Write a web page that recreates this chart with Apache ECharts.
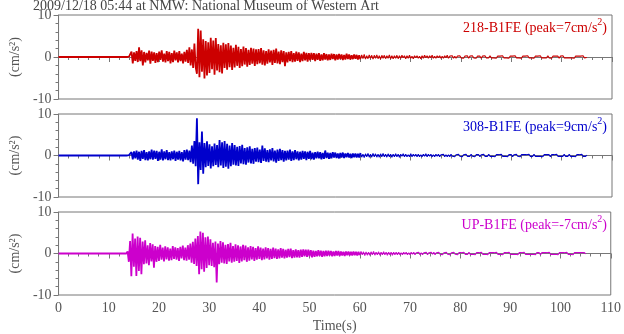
<!DOCTYPE html>
<html>
<head>
<meta charset="utf-8">
<script src="https://cdn.jsdelivr.net/npm/echarts@6/dist/echarts.min.js"></script>
<style>
  html, body { margin: 0; padding: 0; background: #fff; }
  #chart { width: 624px; height: 334px; }
</style>
</head>
<body>
<div id="chart"></div>
<script>
// Strong-motion record, 2009/12/18 05:44, National Museum of Western Art (NMW).
// Acceleration in cm/s^2, sampled every 0.25 s from 13.5 s; quiet before that.
const TITLE = '2009/12/18 05:44 at NMW: National Museum of Western Art';
const RECORD_START = 0;
const SAMPLE_START = 13.5;
const DT = 0.25;
const CODA_START = 60; // weak coda drawn with a thinner pen
const X_TICKS = [0, 10, 20, 30, 40, 50, 60, 70, 80, 90, 100, 110];
const Y_TICKS = [-10, 0, 10];

const channels = ['218-B1FE', '308-B1FE', 'UP-B1FE'];
const peaks = ['7', '9', '-7'];
const colors = ['#cc0000', '#0000cc', '#cc00cc'];

const acc218 = [
  0, 0, 0.1, -0.2, 1.3, -1.5, 1.1, -0.9,
  1.4, -1.2, 2.3, -1.0, 1.6, -2.0, 1.2, -1.3,
  1.0, -0.8, 1.5, -1.6, 1.3, -0.9, 1.1, -1.4,
  0.9, -1.2, 1.3, -0.7, 1.6, -1.1, 0.8, -1.3,
  1.4, -1.0, 1.2, -1.5, 0.9, -1.2, 1.5, -0.8,
  1.1, -1.3, 1.4, -1.0, 0.8, -1.5, 1.2, -1.1,
  1.7, -1.4, 2.3, -2.0, 1.8, -2.6, 3.2, -2.4,
  -4.0, 6.7, -4.8, 6.3, -3.5, 4.2, -5.1, 3.8,
  -4.4, 3.5, -3.8, 4.6, -2.9, 3.9, -4.2, 4.5,
  -3.2, 3.1, -3.6, 2.8, -3.9, 3.4, -2.6, 3.0,
  -3.0, 3.3, -2.4, 2.7, -3.1, 2.2, -2.5, 2.9,
  -2.1, 2.4, -2.6, 1.9, -2.2, 2.5, -1.8, 2.1,
  -2.3, 1.7, -1.9, 2.2, -1.6, 2.0, -2.1, 1.8,
  -1.7, 1.9, -1.5, 2.1, -1.8, 1.6, -2.0, 1.4,
  -1.6, 1.8, -1.3, 1.5, -1.9, 1.7, -1.4, 2.0,
  -1.5, 1.3, -1.7, 1.6, -1.2, 1.4, -2.2, 1.1,
  -1.3, 1.2, -1.0, 1.4, -1.2, 0.9, -1.1, 1.3,
  -0.9, 1.1, -1.2, 0.8, -1.0, 1.2, -0.8, 1.0,
  -1.1, 0.9, -0.8, 1.0, -0.7, 0.9, -1.0, 0.8,
  -0.7, 0.9, -0.9, 0.6, -0.8, 0.9, -0.6, 0.7,
  -0.8, 0.6, -0.7, 0.8, -0.5, 0.7, -0.8, 0.6,
  -0.6, 0.7, -0.5, 0.6, -0.7, 0.5, -0.6, 0.8,
  -0.5, 0.6, -0.6, 0.4, -0.5, 0.6, -0.4, 0.5,
  -0.6, 0.4, -0.5, 0.5, -0.4, 0.6, -0.5, 0.3,
  -0.4, 0.5, -0.3, 0.4, -0.5, 0.4, -0.3, 0.5,
  -0.4, 0.3, -0.5, 0.4, -0.3, 0.4, -0.4, 0.3,
  -0.3, 0.5, -0.4, 0.3, -0.4, 0.3, -0.3, 0.4,
  -0.4, 0.3, -0.3, 0.4, -0.2, 0.3, -0.4, 0.3,
  -0.3, 0.4, -0.3, 0.2, -0.4, 0.3, -0.2, 0.3,
  -0.3, 0.2, -0.4, 0.3, -0.3, 0.4, -0.2, 0.3,
  -0.3, 0.3, -0.2, 0.4, -0.3, 0.2, -0.3, 0.3,
  -0.2, 0.3, -0.3, 0.2, -0.3, 0.3, -0.2, 0.4,
  -0.3, 0.2, -0.2, 0.3, -0.3, 0.2, -0.3, 0.2,
  -0.2, 0.3, -0.2, 0.2, -0.3, 0.2, -0.2, 0.3,
  -0.3, 0.2, -0.2, 0.3, -0.2, 0.2, -0.3, 0.2,
  -0.2, 0.2, -0.3, 0.2, -0.2, 0.3, -0.2, 0.2,
  -0.2, 0.3, -0.2, 0.2, -0.2, 0.2, -0.3, 0.2,
  -0.2, 0.2, -0.2, 0.3, -0.2, 0.2, -0.2, 0.2,
  -0.3, 0.2, -0.2, 0.2, -0.2, 0.3, -0.2, 0.2,
  -0.2, 0.2, -0.3, 0.2, -0.2, 0.2, -0.2, 0.3,
  -0.2, 0.2, -0.2, 0.2, -0.3, 0.2, -0.2, 0.2,
  -0.2, 0.3, -0.2, 0.2, -0.2, 0.2, -0.2, 0.3,
  -0.2, 0.2, -0.3, 0.2, -0.2, 0.2, -0.2, 0.2,
  -0.3, 0.2, -0.2, 0.3, -0.2, 0.2, -0.2, 0.2,
  -0.2, 0.2, -0.2, 0.2, -0.3, 0.2, -0.2, 0.2,
  -0.2, 0.2, -0.2, 0.3, -0.2, 0.2, -0.1
];

const acc308 = [
  0, 0, 0.1, -0.1, 0.8, -0.9, 1.0, -0.7,
  1.2, -1.0, 0.9, -1.3, 1.1, -0.8, 1.3, -1.1,
  0.8, -1.2, 1.0, -0.9, 1.4, -1.0, 1.2, -0.8,
  1.1, -1.3, 0.9, -1.0, 1.5, -1.2, 1.0, -0.9,
  1.3, -1.1, 0.8, -1.2, 1.0, -0.9, 1.2, -1.3,
  0.9, -1.0, 1.1, -1.2, 0.8, -1.4, 1.3, -1.0,
  1.4, -1.1, 1.2, -1.6, 2.4, -2.0, 3.5, -2.6,
  9.0, -6.9, 3.2, -3.5, 5.8, -4.4, 3.0, -2.8,
  3.4, -2.5, 2.7, -3.1, 2.2, -2.6, 2.9, -2.3,
  2.5, -2.8, 3.7, -2.4, 3.2, -3.0, 3.5, -2.7,
  2.8, -3.2, 2.4, -2.6, 3.0, -2.2, 2.5, -2.4,
  2.1, -2.5, 2.3, -1.9, 2.6, -2.1, 1.8, -2.2,
  2.0, -1.7, 2.2, -1.9, 1.6, -2.0, 1.8, -1.5,
  1.9, -1.6, 1.4, -1.8, 2.4, -1.3, 1.7, -1.5,
  1.3, -1.6, 1.5, -1.2, 1.8, -1.4, 1.2, -1.7,
  1.4, -1.3, 1.6, -1.1, 1.3, -1.5, 1.1, -1.2,
  1.2, -1.0, 1.4, -1.3, 1.0, -1.1, 1.3, -0.9,
  1.0, -1.2, 0.9, -1.0, 1.1, -0.8, 1.0, -1.1,
  0.9, -0.8, 1.1, -0.9, 0.7, -1.0, 0.8, -0.7,
  0.9, -0.7, 0.8, -0.9, 0.6, -0.8, 1.2, -0.6,
  0.7, -0.8, 0.6, -0.7, 0.8, -0.5, 0.7, -0.6,
  0.5, -0.7, 0.6, -0.5, 0.7, -0.6, 0.5, -0.4,
  0.6, -0.5, 0.4, -0.6, 0.5, -0.4, 0.5, -0.5,
  0.4, -0.5, 0.6, -0.4, 0.3, -0.5, 0.4, -0.3,
  0.5, -0.4, 0.3, -0.4, 0.5, -0.3, 0.4, -0.4,
  0.3, -0.4, 0.4, -0.3, 0.5, -0.3, 0.3, -0.4,
  0.4, -0.3, 0.3, -0.4, 0.3, -0.3, 0.4, -0.3,
  0.3, -0.4, 0.3, -0.2, 0.4, -0.3, 0.3, -0.3,
  0.2, -0.3, 0.4, -0.3, 0.3, -0.2, 0.3, -0.3,
  0.3, -0.3, 0.2, -0.3, 0.3, -0.2, 0.4, -0.3,
  0.3, -0.2, 0.3, -0.3, 0.2, -0.3, 0.3, -0.2,
  0.3, -0.3, 0.2, -0.2, 0.3, -0.3, 0.2, -0.3,
  0.2, -0.3, 0.3, -0.2, 0.2, -0.3, 0.2, -0.2,
  0.3, -0.2, 0.2, -0.3, 0.2, -0.2, 0.3, -0.2,
  0.2, -0.2, 0.3, -0.2, 0.2, -0.3, 0.2, -0.2,
  0.2, -0.3, 0.2, -0.2, 0.3, -0.2, 0.2, -0.2,
  0.3, -0.2, 0.2, -0.2, 0.2, -0.3, 0.2, -0.2,
  0.2, -0.2, 0.3, -0.2, 0.2, -0.2, 0.2, -0.3,
  0.2, -0.2, 0.2, -0.3, 0.2, -0.2, 0.3, -0.2,
  0.2, -0.3, 0.2, -0.2, 0.2, -0.2, 0.2, -0.2,
  0.3, -0.2, 0.2, -0.2, 0.3, -0.2, 0.2, -0.2,
  0.2, -0.2, 0.2, -0.3, 0.2, -0.2, 0.2, -0.2,
  0.2, -0.3, 0.2, -0.2, 0.2, -0.2, 0.3, -0.2,
  0.2, -0.2, 0.2, -0.2, 0.3, -0.2, 0.2, -0.2,
  0.3, -0.2, 0.2, -0.2, 0.2, -0.3, 0.2, -0.2,
  0.2, -0.2, 0.3, -0.2, 0.2, -0.2, 0.1
];

const accUP = [
  0, 0.5, -2.0, 3.0, -5.5, 4.8, -3.2, 3.6,
  -5.4, 4.1, -4.2, 3.8, -5.0, 2.9, -2.6, 3.2,
  -2.4, 2.0, -2.8, 2.5, -1.9, 2.2, -3.4, 1.8,
  -2.0, 1.6, -1.8, 2.1, -1.5, 1.4, -1.9, 1.7,
  -1.4, 1.5, -1.7, 1.2, -1.6, 1.8, -1.3, 1.5,
  -1.5, 1.3, -1.8, 1.6, -1.2, 1.9, -1.6, 1.4,
  -1.7, 2.0, -1.5, 2.4, -2.2, 2.8, -2.5, 3.6,
  -3.0, 4.2, -5.0, 5.3, -3.8, 5.0, -4.4, 3.9,
  -3.5, 4.1, -2.8, 3.4, -3.0, 2.6, -3.3, 2.9,
  -7.0, 2.4, -2.6, 3.0, -2.2, 2.7, -2.4, 2.1,
  -2.5, 2.3, -1.9, 2.6, -2.2, 1.8, -2.0, 2.2,
  -1.8, 2.0, -2.3, 1.7, -1.9, 2.1, -1.6, 1.9,
  -2.0, 1.5, -1.7, 1.8, -1.4, 1.6, -1.8, 1.3,
  -1.5, 1.7, -1.3, 1.4, -1.6, 1.2, -1.4, 1.5,
  -1.2, 1.3, -1.5, 1.1, -1.3, 1.4, -1.1, 1.2,
  -1.3, 1.0, -1.2, 1.3, -1.0, 1.1, -1.2, 0.9,
  -1.0, 1.1, -0.9, 1.2, -1.1, 0.8, -1.0, 1.0,
  -0.9, 0.8, -1.0, 0.9, -0.8, 1.0, -0.7, 0.9,
  -0.8, 0.9, -0.7, 0.8, -0.9, 0.7, -0.8, 0.6,
  -0.7, 0.8, -0.6, 0.7, -0.8, 0.6, -0.7, 0.7,
  -0.6, 0.7, -0.5, 0.6, -0.7, 0.5, -0.6, 0.6,
  -0.5, 0.6, -0.6, 0.5, -0.5, 0.4, -0.6, 0.5,
  -0.4, 0.5, -0.5, 0.4, -0.5, 0.5, -0.4, 0.4,
  -0.5, 0.4, -0.4, 0.5, -0.3, 0.4, -0.5, 0.4,
  -0.4, 0.3, -0.4, 0.4, -0.3, 0.5, -0.4, 0.3,
  -0.3, 0.4, -0.4, 0.3, -0.3, 0.4, -0.3, 0.3,
  -0.4, 0.3, -0.3, 0.3, -0.4, 0.3, -0.3, 0.3,
  -0.3, 0.3, -0.3, 0.2, -0.3, 0.3, -0.2, 0.3,
  -0.3, 0.2, -0.3, 0.3, -0.2, 0.3, -0.3, 0.2,
  -0.2, 0.3, -0.3, 0.2, -0.3, 0.2, -0.2, 0.3,
  -0.3, 0.2, -0.2, 0.3, -0.2, 0.3, -0.3, 0.2,
  -0.2, 0.3, -0.2, 0.2, -0.3, 0.2, -0.2, 0.3,
  -0.2, 0.2, -0.3, 0.2, -0.2, 0.3, -0.2, 0.2,
  -0.3, 0.2, -0.2, 0.2, -0.2, 0.3, -0.2, 0.2,
  -0.2, 0.3, -0.2, 0.2, -0.2, 0.2, -0.3, 0.2,
  -0.2, 0.2, -0.2, 0.3, -0.2, 0.2, -0.2, 0.2,
  -0.3, 0.2, -0.2, 0.2, -0.2, 0.2, -0.2, 0.3,
  -0.2, 0.2, -0.2, 0.2, -0.3, 0.2, -0.2, 0.2,
  -0.2, 0.3, -0.2, 0.2, -0.2, 0.2, -0.2, 0.2,
  -0.3, 0.2, -0.2, 0.2, -0.2, 0.3, -0.2, 0.2,
  -0.2, 0.2, -0.2, 0.2, -0.2, 0.2, -0.3, 0.2,
  -0.2, 0.2, -0.3, 0.2, -0.2, 0.2, -0.2, 0.2,
  -0.2, 0.3, -0.2, 0.2, -0.2, 0.2, -0.2, 0.2,
  -0.3, 0.2, -0.2, 0.2, -0.2, 0.2, -0.2, 0.3,
  -0.2, 0.2, -0.2, 0.2, -0.3, 0.2, -0.2, 0.2,
  -0.2, 0.2, -0.2, 0.2, -0.2, 0.2, -0.1
];

const records = [acc218, acc308, accUP];

// Pair each sample with its time; the record is flat before the first sample.
function toSeriesData(values) {
  const pts = [[RECORD_START, 0]];
  values.forEach((v, i) => pts.push([SAMPLE_START + i * DT, v]));
  return pts;
}

const FONT = '"Liberation Serif", "DejaVu Serif", serif';
const TEXT = '#555';
const AXIS = '#777';

const panels = [
  { top: 15, height: 84 },
  { top: 114, height: 83 },
  { top: 212, height: 84 }
];

const grid = panels.map(p => ({
  left: 50, right: 12, top: p.top, height: p.height,
  show: true, borderColor: AXIS, borderWidth: 1, backgroundColor: 'transparent'
}));

const xAxis = panels.map((p, i) => ({
  type: 'value', gridIndex: i,
  min: X_TICKS[0], max: X_TICKS[X_TICKS.length - 1], interval: X_TICKS[1] - X_TICKS[0],
  axisLine: { show: true, lineStyle: { color: AXIS } },
  axisTick: { show: true, inside: false, length: 5, lineStyle: { color: AXIS } },
  minorTick: { show: true, splitNumber: 5, length: 3, lineStyle: { color: AXIS } },
  splitLine: { show: false },
  axisLabel: {
    show: i === panels.length - 1, color: TEXT, fontFamily: FONT, fontSize: 14, margin: 6
  },
  name: i === panels.length - 1 ? 'Time(s)' : '',
  nameLocation: 'middle', nameGap: 24,
  nameTextStyle: { color: TEXT, fontFamily: FONT, fontSize: 14 }
}));

const yAxis = panels.map((p, i) => ({
  type: 'value', gridIndex: i,
  min: Y_TICKS[0], max: Y_TICKS[Y_TICKS.length - 1], interval: Y_TICKS[1] - Y_TICKS[0],
  axisLine: { show: true, lineStyle: { color: AXIS } },
  axisTick: { show: true, inside: false, length: 5, lineStyle: { color: AXIS } },
  minorTick: { show: true, splitNumber: 5, length: 3, lineStyle: { color: AXIS } },
  splitLine: { show: false },
  axisLabel: { color: TEXT, fontFamily: FONT, fontSize: 14, margin: 7 },
  name: '(cm/s²)', nameLocation: 'middle', nameGap: 32, nameRotate: 90,
  nameTextStyle: { color: TEXT, fontFamily: FONT, fontSize: 14 }
}));

// Each trace: strong-motion part with a heavier pen, coda with a thin one.
const series = [];
records.forEach((vals, i) => {
  const pts = toSeriesData(vals);
  const strong = pts.filter(p => p[0] <= CODA_START);
  const coda = pts.filter(p => p[0] >= CODA_START);
  [[strong, 1.8], [coda, 1.1]].forEach(([data, w]) => {
    series.push({
      type: 'line', xAxisIndex: i, yAxisIndex: i, data,
      showSymbol: false, symbol: 'none', animation: false, silent: true,
      lineStyle: { color: colors[i], width: w }
    });
  });
});

// Channel name and peak acceleration, top-right inside each panel.
const labels = panels.map((p, i) => ({
  right: 17, top: p.top + 2,
  text: `{t|${channels[i]} (peak=${peaks[i]}cm/s}{s|2}{t|)}`,
  textStyle: {
    fontWeight: 'normal',
    rich: {
      t: { color: colors[i], fontFamily: FONT, fontSize: 14, fontWeight: 'normal', verticalAlign: 'bottom', lineHeight: 18 },
      s: { color: colors[i], fontFamily: FONT, fontSize: 10, fontWeight: 'normal', verticalAlign: 'top', lineHeight: 18, padding: [0, 0, 6, 0] }
    }
  },
  padding: 0
}));

const chart = echarts.init(document.getElementById('chart'), null, { renderer: 'canvas' });
chart.setOption({
  animation: false,
  backgroundColor: '#fff',
  title: [
    {
      left: 33, top: -1, text: TITLE, padding: 0,
      textStyle: { color: '#444', fontFamily: FONT, fontSize: 14, fontWeight: 'normal' }
    },
    ...labels
  ],
  grid, xAxis, yAxis, series
});
</script>
</body>
</html>
